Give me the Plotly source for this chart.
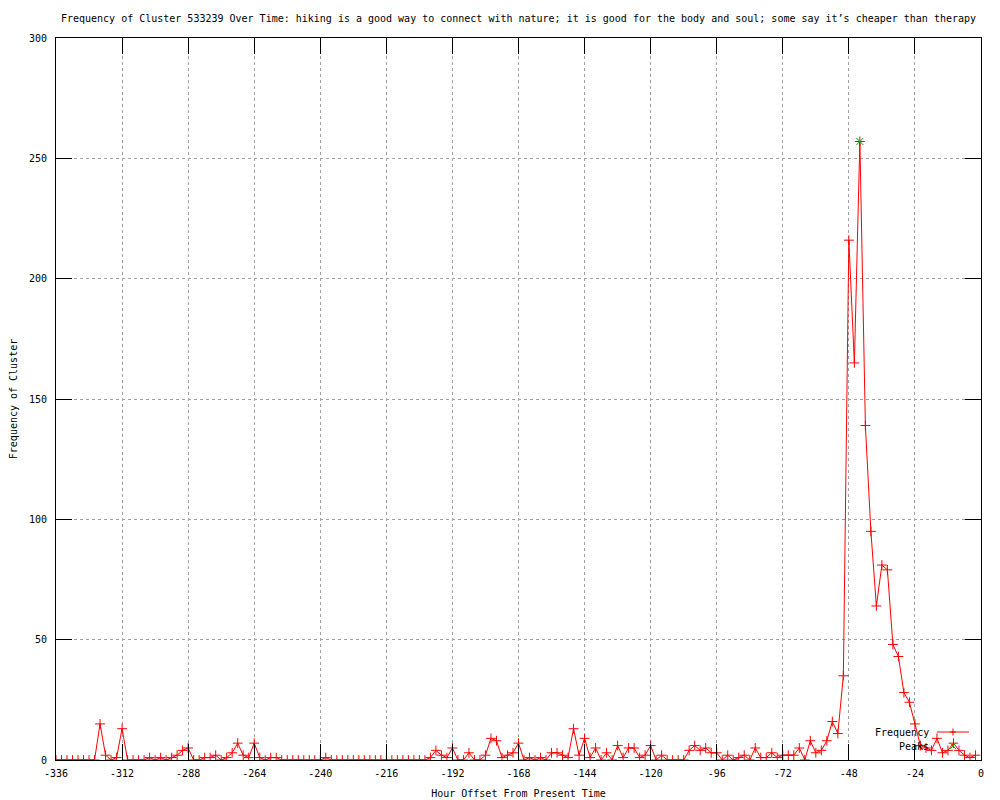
import plotly.graph_objects as go

hours = list(range(-336, 0, 2))
frequency = [
    0, 0, 0, 0, 0, 0, 0, 0,            # -336 .. -322
    15, 2, 0, 1, 13, 0, 0, 0,          # -320 .. -306
    0, 1, 0, 1, 0, 1, 2, 4,            # -304 .. -290
    5, 0, 0, 1, 1, 2, 0, 1,            # -288 .. -274
    3, 7, 2, 1, 7, 1, 0, 1,            # -272 .. -258
    1, 0, 0, 0, 0, 0, 0, 0,            # -256 .. -242
    0, 1, 0, 0, 0, 0, 0, 0,            # -240 .. -226
    0, 0, 0, 0, 0, 0, 0, 0,            # -224 .. -210
    0, 0, 0, 0, 1, 4, 2, 1,            # -208 .. -194
    5, 0, 0, 3, 0, 0, 2, 9,            # -192 .. -178
    8, 1, 2, 3, 7, 0, 1, 0,            # -176 .. -162
    1, 0, 3, 3, 2, 1, 13, 2,           # -160 .. -146
    9, 1, 5, 0, 3, 0, 6, 1,            # -144 .. -130
    5, 5, 1, 2, 6, 0, 2, 0,            # -128 .. -114
    0, 0, 0, 4, 6, 4, 5, 3,            # -112 .. -98
    3, 0, 2, 0, 1, 2, 0, 5,            # -96 .. -82
    1, 1, 3, 1, 2, 2, 2, 5,            # -80 .. -66
    0, 8, 3, 4, 8, 16, 11, 35,         # -64 .. -50
    216, 165, 257, 139, 95, 64, 81, 79,  # -48 .. -34
    48, 43, 28, 24, 15, 6, 5, 4,       # -32 .. -18
    9, 3, 4, 7, 4, 2, 1, 2,            # -16 .. -2
]
peak_hours = [-44]
peak_values = [257]

x_ticks = list(range(-336, 1, 24))
y_ticks = list(range(0, 301, 50))

title_text = ("Frequency of Cluster 533239 Over Time: hiking is a good way to connect with nature; "
              "it is good for the body and soul; some say it\u2019s cheaper than therapy")

FONT = "DejaVu Sans Mono"

fig = go.Figure()
fig.add_trace(go.Scatter(
    x=hours, y=frequency, mode="lines+markers", name="Frequency",
    line=dict(color="#ff0000", width=1),
    marker=dict(symbol="cross-thin", size=7, line=dict(color="#ff0000", width=1)),
    showlegend=False,
))
fig.add_trace(go.Scatter(
    x=peak_hours, y=peak_values, mode="markers", name="Peaks",
    marker=dict(symbol="x-thin", size=7, line=dict(color="#00b000", width=1)),
    showlegend=False,
))

# page body has an 8px margin; target plot area in page pixels: x 56..981, y 38..760
def px(xp):
    return (xp - 56) / 925.0

def py(yp):
    return (760 - yp) / 722.0

shapes = [
    dict(type="line", xref="paper", yref="paper", x0=px(937), x1=px(969),
         y0=py(732), y1=py(732), line=dict(color="#ff0000", width=1)),
    dict(type="line", xref="paper", yref="paper", x0=px(950), x1=px(956),
         y0=py(732), y1=py(732), line=dict(color="#ff0000", width=1)),
    dict(type="line", xref="paper", yref="paper", x0=px(953), x1=px(953),
         y0=py(728.5), y1=py(735.5), line=dict(color="#ff0000", width=1)),
    dict(type="line", xref="paper", yref="paper", x0=px(950), x1=px(956),
         y0=py(743), y1=py(749), line=dict(color="#00b000", width=1)),
    dict(type="line", xref="paper", yref="paper", x0=px(950), x1=px(956),
         y0=py(749), y1=py(743), line=dict(color="#00b000", width=1)),
]

annotations = [
    dict(text="Frequency", xref="paper", yref="paper", x=px(931), y=py(732),
         xanchor="right", yanchor="middle", showarrow=False,
         font=dict(family=FONT, size=10, color="black")),
    dict(text="Peaks", xref="paper", yref="paper", x=px(931), y=py(746),
         xanchor="right", yanchor="middle", showarrow=False,
         font=dict(family=FONT, size=10, color="black")),
]

fig.update_layout(
    width=992, height=792,
    paper_bgcolor="white", plot_bgcolor="white",
    margin=dict(l=48, r=19, t=30, b=40),
    font=dict(family=FONT, size=10, color="black"),
    title=dict(text=title_text, x=0.5, xref="paper", xanchor="center",
               y=1 - 10 / 792, yanchor="middle",
               font=dict(family=FONT, size=10, color="black")),
    shapes=shapes,
    annotations=annotations,
    showlegend=False,
)

fig.update_xaxes(
    range=[-336, 0], tickvals=x_ticks, ticktext=[str(v) for v in x_ticks],
    ticks="inside", ticklen=16, tickcolor="black", tickwidth=1,
    showline=True, linecolor="black", linewidth=1, mirror="ticks",
    showgrid=True, gridcolor="#a0a0a0", griddash="dot", gridwidth=1,
    zeroline=False, ticklabelstandoff=4,
    title=dict(text="Hour Offset From Present Time", standoff=11,
               font=dict(family=FONT, size=10)),
    automargin=False,
)
fig.update_yaxes(
    range=[0, 300], tickvals=y_ticks, ticktext=[str(v) for v in y_ticks],
    ticks="inside", ticklen=16, tickcolor="black", tickwidth=1,
    showline=True, linecolor="black", linewidth=1, mirror="ticks",
    showgrid=True, gridcolor="#a0a0a0", griddash="dot", gridwidth=1,
    zeroline=False, ticklabelstandoff=6,
    title=dict(text="Frequency of Cluster", standoff=9,
               font=dict(family=FONT, size=10)),
    automargin=False,
)

fig.write_html("out.html")
